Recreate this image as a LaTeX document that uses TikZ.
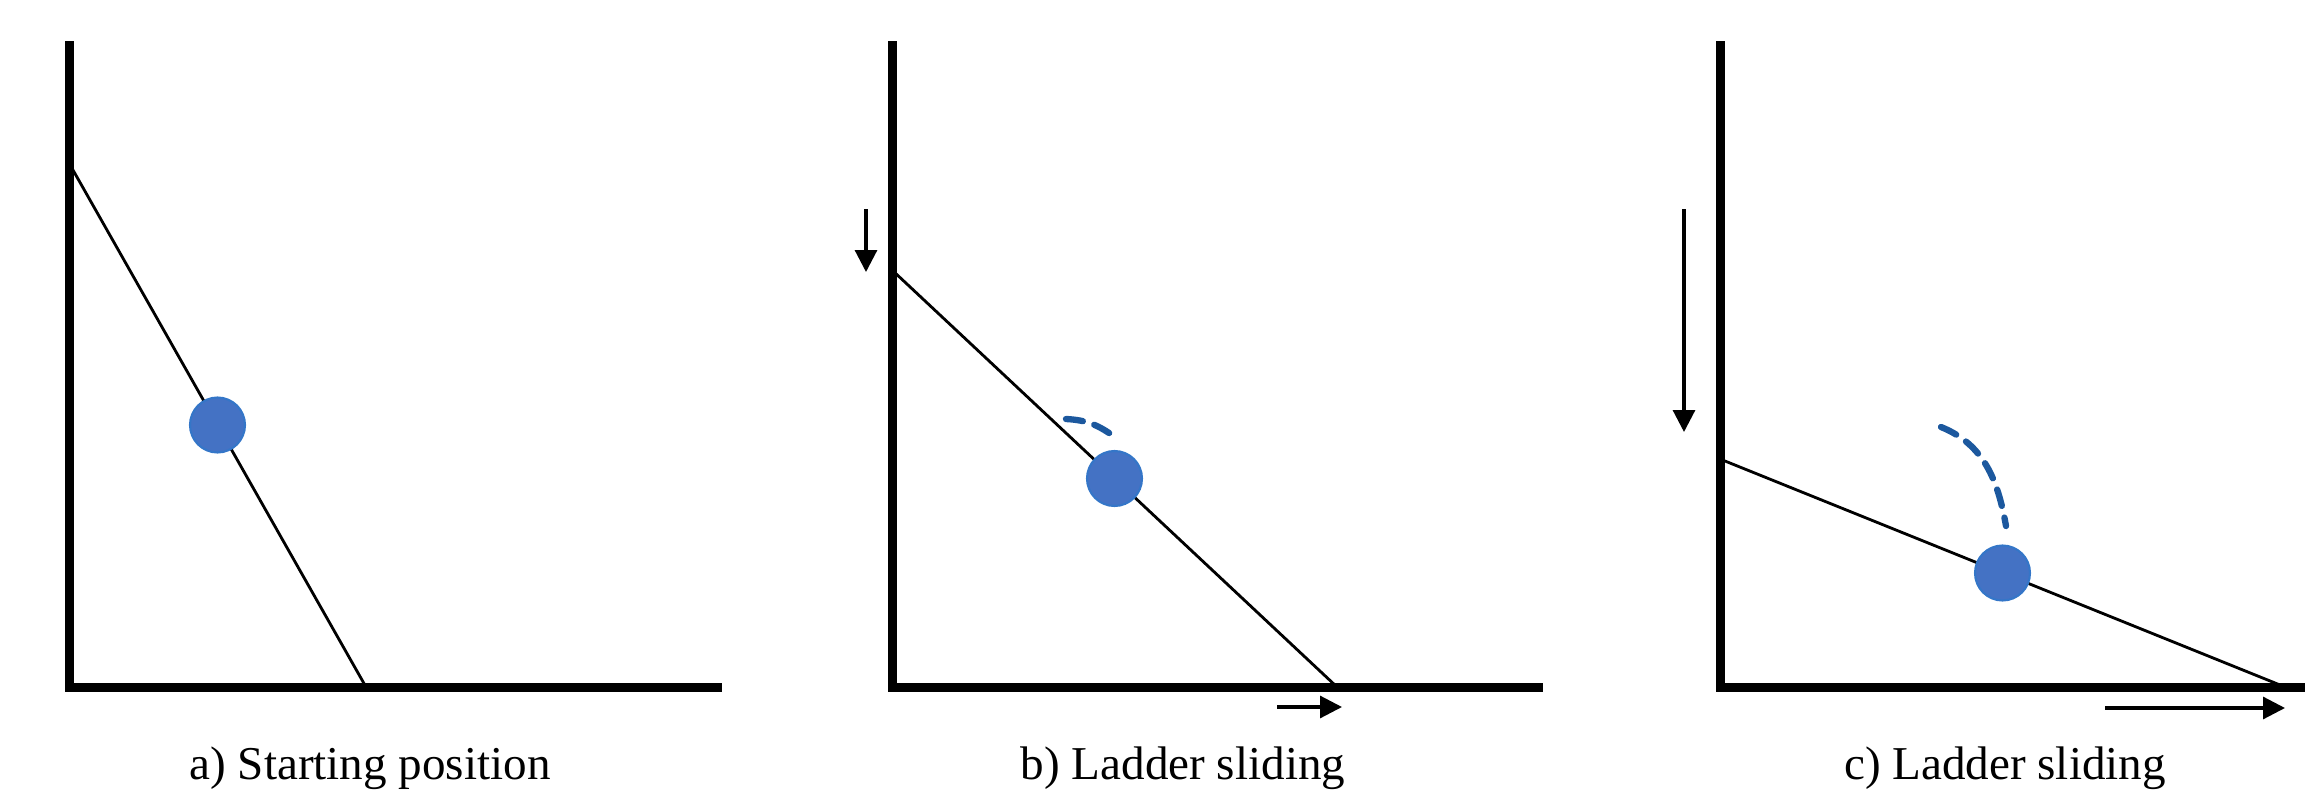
\documentclass[tikz,border=0pt]{standalone}
\usepackage{fontspec}
\setmainfont{Liberation Serif}
\usepackage{xcolor}
\definecolor{ldBlue}{RGB}{68, 114, 196}
\definecolor{ldEdge}{RGB}{52, 118, 200}
\definecolor{ldTrace}{RGB}{28, 88, 158}
\usetikzlibrary{
    arrows.meta,
    positioning,
    calc
}

\begin{document}
\begin{tikzpicture}[
    axisLine/.style={
        draw=black, line width=0.09cm, line join=miter
    },
    ladderLine/.style={
        draw=black, line width=0.8pt
    },
    massDot/.style={
        circle, fill=ldBlue, draw=ldEdge, line width=0.6pt,
        minimum size=0.55cm, inner sep=0pt
    },
    slideArrow/.style={
        -{Triangle[length=0.22cm, width=0.22cm]}, line width=0.9pt, draw=black
    },
    traceLine/.style={
        draw=ldTrace, line width=1.8pt, line cap=round,
        dash pattern=on 0.17cm off 0.12cm
    },
    panelCaption/.style={
        font=\fontsize{13.4}{16}\selectfont, anchor=base, inner sep=0pt
    }
]
    \useasboundingbox (0,0) rectangle (23.05,7.90);

    % a) Starting position
    \coordinate (aTop) at (0.69,7.49);
    \coordinate (aO) at (0.69,1.03);
    \coordinate (aEnd) at (7.22,1.03);
    \coordinate (aWall) at (0.69,6.27);
    \coordinate (aFloor) at (3.66,1.03);

    \draw[axisLine] (aTop) -- (aO) -- (aEnd);
    \draw[ladderLine] (aWall) -- (aFloor);
    \node[massDot] (aMass) at ($(aWall)!0.5!(aFloor)$) {};
    \node[panelCaption] (aCap) at (3.70,0.11) {a) Starting position};

    % b) Ladder sliding
    \coordinate (bTop) at (8.92,7.49);
    \coordinate (bO) at (8.92,1.03);
    \coordinate (bEnd) at (15.43,1.03);
    \coordinate (bWall) at (8.92,5.20);
    \coordinate (bFloor) at (13.37,1.03);

    \draw[axisLine] (bTop) -- (bO) -- (bEnd);
    \draw[ladderLine] (bWall) -- (bFloor);
    \node[massDot] (bMass) at ($(bWall)!0.5!(bFloor)$) {};

    \coordinate (bDownFrom) at (8.66,5.81);
    \coordinate (bDownTo) at (8.66,5.18);
    \coordinate (bRightFrom) at (12.77,0.83);
    \coordinate (bRightTo) at (13.42,0.83);
    \draw[slideArrow] (bDownFrom) -- (bDownTo);
    \draw[slideArrow] (bRightFrom) -- (bRightTo);

    \coordinate (bTraceA) at (10.66,3.71);
    \coordinate (bTraceB) at (11.12,3.55);
    \draw[traceLine] (bTraceA) to[out=-3, in=145] (bTraceB);

    \node[panelCaption] (bCap) at (11.83,0.11) {b) Ladder sliding};

    % c) Ladder sliding
    \coordinate (cTop) at (17.20,7.49);
    \coordinate (cO) at (17.20,1.03);
    \coordinate (cEnd) at (23.15,1.03);
    \coordinate (cWall) at (17.20,3.31);
    \coordinate (cFloor) at (22.85,1.03);

    \draw[axisLine] (cTop) -- (cO) -- (cEnd);
    \draw[ladderLine] (cWall) -- (cFloor);
    \node[massDot] (cMass) at ($(cWall)!0.5!(cFloor)$) {};

    \coordinate (cDownFrom) at (16.84,5.81);
    \coordinate (cDownTo) at (16.84,3.58);
    \coordinate (cRightFrom) at (21.05,0.82);
    \coordinate (cRightTo) at (22.85,0.82);
    \draw[slideArrow] (cDownFrom) -- (cDownTo);
    \draw[slideArrow] (cRightFrom) -- (cRightTo);

    \coordinate (cTraceA) at (19.41,3.63);
    \coordinate (cTraceB) at (20.06,2.64);
    \draw[traceLine] (cTraceA) to[out=-22, in=100] (cTraceB);

    \node[panelCaption] (cCap) at (20.05,0.11) {c) Ladder sliding};

\end{tikzpicture}
\end{document}
